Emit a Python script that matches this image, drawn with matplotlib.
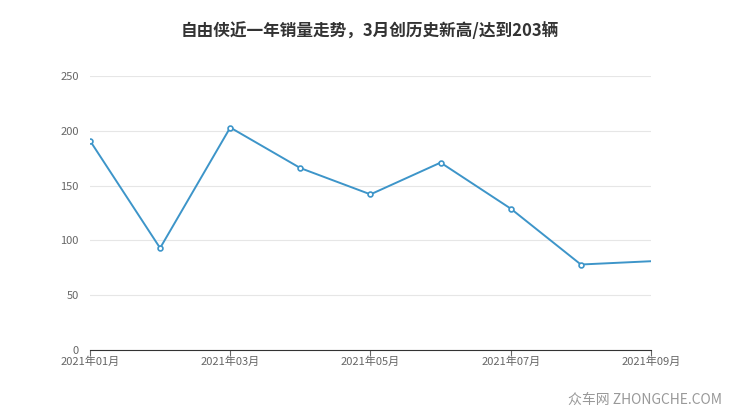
import matplotlib
matplotlib.use("Agg")
import matplotlib.pyplot as plt

plt.rcParams["font.family"] = ["Noto Sans CJK SC", "DejaVu Sans"]

months = ["2021年01月", "2021年02月", "2021年03月", "2021年04月", "2021年05月",
          "2021年06月", "2021年07月", "2021年08月", "2021年09月"]
sales = [191, 93, 203, 166, 142, 171, 129, 78, 81]
yticks = [0, 50, 100, 150, 200, 250]

fig = plt.figure(figsize=(7.4, 4.17), dpi=100)
ax = fig.add_axes([0.1216, 0.1607, 0.7581, 0.657])

x = list(range(len(months)))
ax.plot(x, sales, color="#3d95c9", linewidth=1.4, zorder=3)
ax.plot(x[:-1], sales[:-1], linestyle="none", marker="o", markersize=3.5,
        markerfacecolor="white", markeredgecolor="#3d95c9", markeredgewidth=1.2, zorder=4)

ax.set_xlim(0, len(months) - 1)
ax.set_ylim(0, 250)
ax.set_yticks(yticks)
ax.set_xticks(x[::2])
ax.set_xticklabels(months[::2])
ax.grid(axis="y", color="#e6e6e6", linewidth=0.8)
for s in ["top", "right", "left"]:
    ax.spines[s].set_visible(False)
ax.spines["bottom"].set_color("#333333")
ax.tick_params(axis="y", length=0, labelsize=8, colors="#666666", pad=8)
ax.tick_params(axis="x", length=4, labelsize=8, colors="#666666", direction="out", pad=1)

fig.text(0.5, 0.925, "自由侠近一年销量走势，3月创历史新高/达到203辆", ha="center",
         va="center", fontsize=12, fontweight="bold", color="#333333")
fig.text(0.975, 0.04, "众车网 ZHONGCHE.COM", ha="right", va="center",
         fontsize=10, color="#999999")

fig.savefig("out.png", dpi=100)
